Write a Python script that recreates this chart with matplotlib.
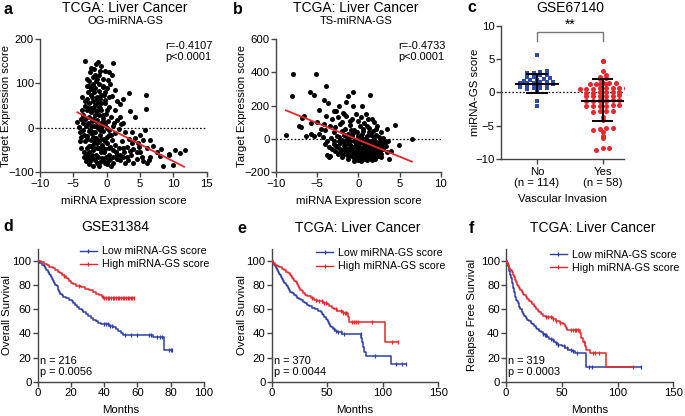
import numpy as np
import matplotlib
matplotlib.use('Agg')
import matplotlib.pyplot as plt
from matplotlib.lines import Line2D

plt.rcParams['font.family'] = ['Liberation Sans', 'DejaVu Sans']

# ---------------- DATA ----------------
# Panel a: OG-miRNA-GS (miRNA expression score, target expression score)
a_points = [
    (-3.3,151),(-1.6,144),(-1.3,148),(1.0,146),(-2.4,135),(-1.0,128),(-0.3,128),(0.4,125),(0.8,118),
    (-2.0,114),(-2.6,106),(-1.6,106),(-2.1,99),(-3.0,95),(-1.1,99),(-0.5,91),(0.5,99),(3.3,78),(5.9,74),
    (5.9,43),(-3.7,69),(2.0,54),(3.5,39),(4.3,24),(-1.8,120),(-0.6,110),(0.2,108),(1.3,85),(-2.8,80),
    (-1.2,82),(-2.3,88),(0.8,72),(1.5,60),(2.5,66),(-3.2,50),(-0.2,62),(-1.5,70),(-2.0,60),(-0.8,55),(0.3,48),
    (-4.4,14),(-4.2,3),(-3.9,-20),(-3.5,30),(-3.2,20),(-3.0,40),(-2.8,10),(-2.6,25),(-2.5,-5),(-2.3,35),
    (-2.2,15),(-2.0,45),(-1.9,5),(-1.8,28),(-1.7,-10),(-1.5,38),(-1.4,18),(-1.3,0),(-1.1,30),(-1.0,-15),
    (-0.9,12),(-0.8,40),(-0.6,22),(-0.5,-8),(-0.3,8),(-0.1,32),(0.0,-20),(0.2,15),(0.4,-5),(0.6,25),
    (0.9,5),(1.2,-12),(1.5,18),(1.8,-2),(2.2,8),(2.8,-10),(-3.6,-5),(-3.3,-30),(-2.9,-18),(-2.7,-40),
    (-2.4,-28),(-2.1,-50),(-1.9,-35),(-1.6,-22),(-1.4,-45),(-1.2,-30),(-0.9,-55),(-0.7,-38),(-0.4,-25),
    (-0.2,-48),(0.1,-35),(0.3,-60),(0.5,-42),(0.8,-28),(1.0,-50),(1.3,-38),(1.6,-62),(1.9,-45),(2.3,-30),
    (2.6,-55),(3.0,-42),(3.3,-25),(3.6,-60),(4.0,-48),(4.3,-22),(4.7,-35),(5.0,-55),(5.5,-28),(6.0,-45),
    (6.5,-27),(7.0,-40),(4.8,-43),(5.3,-66),(6.5,-66),(8.0,-64),(9.3,-58),(10.3,-49),(8.5,-85),(3.5,-51),
    (2.5,-66),(2.0,-73),(0.5,-70),(-3.3,-66),(-2.8,-70),(-1.0,-77),(10.0,-84),(11.8,-50),(11.0,-57),
    (9.3,-61),(-3.4,-65),(-2.5,-75),(-2.0,-68),(-1.5,-80),(-0.5,-72),(0.0,-82),(1.0,-78),(1.5,-70),
    (2.8,-78),(3.2,-72),(4.0,-80),(4.5,-70),(5.5,-75),(6.0,-80),(6.3,-72),(7.5,-55),(8.2,-48),(3.8,-10),
    (5.0,-15),(5.8,-5),(-3.8,-45),(-4.0,-10),(-3.1,5),(-2.6,55),(-2.2,70),(-1.7,52),(-1.0,65),(-0.4,75),
    (0.0,90),(-0.9,140),(-2.5,125),(-1.9,132),(1.2,40),(2.0,25),(2.5,10),(-2.3,-12),(-2.0,20),(-1.8,-25),
    (-1.5,5),(-1.2,48),(-0.8,-5),(-0.6,-45),(-0.3,55),(0.1,0),(-1.6,-60),(-2.7,-55),(-3.0,-45),(-0.1,-65),
    (0.7,-15),(1.1,10),(-2.4,45),(-1.3,58),(-3.5,10),(-2.9,65),(-1.7,90),
    (-3.4,-55),(-3.1,-75),(-2.9,-60),(-2.6,-82),(-2.2,-62),(-2.0,-85),(-1.8,-72),(-1.3,-65),(-1.1,-85),
    (-0.7,-68),(-0.3,-80),(0.2,-75),(0.6,-85),(-3.6,25),(-3.4,-15),(-3.0,-25),(-2.7,-8),(-2.4,5),
    (-2.1,-20),(-1.9,-45),(-1.6,15),(-1.4,-35),(-1.1,-45),(-0.8,-25),(-0.5,15),(-0.2,-30),(0.3,-15),
    (-3.2,60),(-2.8,45),(-2.4,75),(-2.1,95),(-1.9,80),(-1.5,110),(-1.2,118),(-0.9,75),(-0.6,95),(-0.2,80),
    (0.3,70),(-2.7,95),(-3.0,110),(-2.3,-40),(-2.0,-10),(-1.7,40),(-1.4,65),(-1.0,45),(-0.7,5),(-0.4,-55),
    (0.0,40),(0.4,-45),(1.0,-65),(1.4,-55),(2.0,-60),(2.4,-45),(3.0,-65),(3.8,-35),(4.5,-55),(-3.7,40),
    (-4.0,-30),(-3.9,20),(-2.5,-65),(-1.0,-5),(-0.5,30),
]
a_fit_x = [-4.4, 11.6]
a_fit_y = [35, -87.5]

# Panel b: TS-miRNA-GS
b_points = [
    (-7.9,390),(-5.2,390),(-8.0,256),(-5.9,280),(-5.4,266),(-3.9,320),(-4.2,234),(-3.7,216),(-1.3,260),
    (-0.7,282),(1.4,262),(-1.5,224),(-4.8,174),(-6.6,140),(-6.8,126),(-7.2,80),(-7.0,70),(-8.8,24),
    (-5.7,94),(-5.8,30),(-5.4,16),(-6.4,20),(-4.2,90),(-4.0,54),(-3.8,-10),(-3.6,-50),(-3.6,-106),
    (4.4,86),(3.5,60),(4.9,-36),(6.5,0),(3.7,-120),(2.5,-70),(-2.9,170),(-2.3,200),(-1.9,156),(-0.7,200),
    (0.5,200),(0.9,150),(1.7,120),(1.9,100),(2.7,40),
    (-2.5,130),(-1.5,140),(-0.3,150),(0.3,130),(-1.0,110),(1.2,120),(-2.0,100),(0.0,105),(-3.2,120),
    (-3.5,80),(-2.8,70),(-2.2,90),(-1.6,60),(-1.0,85),(-0.5,55),(0.2,75),(0.7,95),(1.3,65),(1.8,50),
    (2.3,80),(-0.2,40),(-1.3,30),(-2.0,45),(-2.6,20),(-3.0,40),(-4.5,60),(-5.0,100),(-4.8,30),
    (-3.3,5),(-2.9,-10),(-2.4,10),(-2.0,-5),(-1.7,25),(-1.2,0),(-0.8,20),(-0.4,-5),(0.0,15),(0.4,30),
    (0.8,0),(1.1,20),(1.5,-10),(1.9,10),(2.2,25),(2.6,-15),(3.0,5),(0.6,45),(-0.6,35),(1.3,40),
    (-3.0,-30),(-2.6,-45),(-2.2,-25),(-1.8,-40),(-1.4,-20),(-1.0,-35),(-0.7,-50),(-0.3,-25),(0.1,-40),
    (0.4,-20),(0.7,-45),(1.0,-30),(1.3,-50),(1.6,-25),(2.0,-40),(2.4,-30),(2.8,-45),(3.2,-20),(-0.5,-10),
    (0.3,-8),(0.9,-12),(1.8,-5),(-1.5,-8),(-2.3,-55),
    (-2.8,-70),(-2.2,-80),(-1.7,-60),(-1.3,-90),(-0.9,-70),(-0.5,-85),(-0.1,-60),(0.2,-95),(0.5,-75),
    (0.8,-60),(1.1,-90),(1.4,-70),(1.7,-85),(2.0,-65),(2.3,-95),(2.6,-75),(3.0,-60),(-0.2,-75),(0.6,-55),
    (1.0,-65),(-1.9,-95),(0.0,-80),
    (-2.0,-110),(-1.2,-120),(-0.5,-115),(0.0,-125),(0.5,-110),(1.0,-125),(1.5,-115),(2.0,-120),(2.8,-110),
    (-3.5,-105),(-3.8,-95),(0.3,-130),(1.2,-105),(-0.8,-105),
    (-0.4,-40),(0.2,-55),(0.8,-35),(-1.0,-55),(1.5,-45),(-0.6,-95),(0.7,-100),(-1.6,-75),(1.9,-100),
    (2.5,-55),(0.0,-15),(-1.1,10),(0.5,5),(-2.5,-90),(3.5,-80),(4.0,-70),(-3.2,-60),(-4.0,-30),(-4.3,10),
    (2.1,60),(1.0,80),(-0.8,120),(-1.8,150),(-2.7,170),(-3.9,140),
    (-1.8,-20),(-1.4,-60),(-1.0,-15),(-0.6,-70),(-0.2,-45),(0.2,-20),(0.6,-90),(1.0,-45),(1.4,-95),
    (1.8,-30),(2.2,-70),(-1.2,-105),(-0.3,-100),(0.4,-115),(1.1,-110),(1.7,-125),(2.4,-105),(-0.9,-45),
    (-0.1,-30),(0.5,-65),(0.9,-80),(1.3,-15),(2.1,-55),(-1.6,-35),(-2.1,-65),(-0.5,-130),(0.8,-120),
    (1.6,-60),(2.7,-90),(3.3,-45),(-2.4,-15),(-1.3,-75),(0.1,-105),(0.7,-25),(1.9,-80),(-0.8,-85),
    (0.0,-50),(0.4,-85),(1.2,-35),(-0.4,-60),(2.9,-25),(3.6,-10),(-2.7,-40),(0.3,15),(1.5,25),(-0.9,55),
    (0.6,60),(2.0,-15),(-1.5,20),(2.5,10),
]
b_fit_x = [-8.8, 6.5]
b_fit_y = [172, -136]

# Panel c: GSE67140 miRNA-GS score by vascular invasion
c_categories = ['No\n(n = 114)', 'Yes\n(n = 58)']
c_no = [5.6, 3.2, 3.1, 2.95, 2.85, 2.6, 2.6, 2.35, 2.35, 2.2, 1.95, 1.85, 1.85, 1.75, 1.6, 1.6, 1.6,
        1.45, 1.45, 1.35, 1.2, 1.0, 0.95, 0.95, 0.85, 0.75, 0.6, 0.6, 0.6, 0.45, 0.1, -1.25, -1.35, -2.05]
c_yes = [4.75, 4.7, 3.2, 2.55, 2.3, 2.1, 1.95, 1.4, 1.35, 1.3, 1.25, 1.3, 1.2, 1.35, 0.65, 0.6, 0.55,
         0.7, 0.6, 0.5, 0.65, 0.55, 0.05, 0.0, -0.05, 0.1, 0.0, -0.05, -0.5, -0.55, -0.45, -0.5, -0.6,
         -0.5, -1.2, -1.25, -1.15, -1.3, -1.2, -1.25, -1.2, -1.3, -2.0, -1.95, -2.1, -2.0, -1.9, -2.05,
         -2.8, -2.9, -2.75, -2.85, -3.7, -4.1, -5.3, -5.6, -5.9, -5.5, -5.4, -6.5, -6.9, -8.3, -8.6, -8.4]
c_mean = [1.3, -1.25]
c_sd_hi = [2.7, 1.95]
c_sd_lo = [-0.15, -4.3]

# Panel d: GSE31384 overall survival
d_low_t = [0,1,2.5,3.5,4.5,5,6,6.5,7.5,8,8.5,9.5,10,10.5,11.5,12,12.5,13,13.5,14.5,15.5,17,19,20.5,21.5,
           22.5,23.5,25,26.5,27.5,29,30.5,32,33.5,35,36.5,38,43,45.5,47,48.5,50,51.5,69.5,76]
d_low_s = [100,98.5,97,95.5,94,92.5,91,89.5,88,86.5,85,83.5,82,80.5,79,77.5,76,74.5,73,71.5,70,69,68,
           66.5,65,63.5,62,60.5,59,57.5,56,54.5,53,51.5,50,48.5,47.5,46.5,45,43.5,42,40.5,38.5,37,26]
d_low_cens = [40,41,42,43.5,44.5,52.5,56,60,67,68,72,73.5,74.5,79,80,81]
d_high_t = [0,2,4,5.5,7,9,10.5,12,13.5,14.5,16,17,18,19,20,21.5,23,26,28.5,31,33,35,37,38.5,39.5]
d_high_s = [100,99,97.7,96.4,95.1,93.8,92.5,91.2,89.9,88.6,87.3,86,84.7,83.4,82.1,80.8,79.5,78.2,76.9,
            75.6,74.3,73,71.7,70.4,69]
d_high_cens = [16,25,39,40,41,42,43,44,45,46,47,48,49,50,51,52,53,54,55,56,57,58]

# Panel e: TCGA overall survival
e_low_t = [0,1,2,3,4,4.5,5.5,6.5,7.5,8.5,9.5,10.5,11.5,12.5,13.5,14.5,15.5,16.5,18,20,21.5,23,24.5,26,
           28,30,32,34,36,39,42,44,45.5,46.5,47.5,48.5,49.5,50.5,51.5,52.5,53.5,55,57,59,63,80.5,81.5,
           82.5,83.5,84.5,107]
e_low_s = [100,98.5,97,95.5,94,92.5,91,89.5,88,86.5,85,83.5,82,80.5,79,77.5,76,74.5,73.3,72.1,70.9,
           69.7,68.5,67.3,66.1,64.9,63.7,62.5,61.3,60.1,58.9,57.7,56.3,54.9,53.5,52.1,50.7,49.3,47.9,
           46.5,45.1,43.7,42.3,41,39.7,36.5,33,29,25,21.5,14.5]
e_low_cens = [56,58,60,62,65,80,93,112,117,121]
e_high_t = [0,1.5,3,4.5,6.5,9,11,13,15,16.5,17.5,18.5,19.5,20.5,21.5,22.5,23.5,24.5,25.5,27,28.5,30,32,
            35,38,41,46,50,52,54,56,59,64,69,69.5,102]
e_high_s = [100,98.5,97,95.8,94.6,93.4,92.2,91,89.8,88.6,87.4,86.2,85,83.6,82.2,80.8,79.2,77.6,76.2,
            74.8,73.4,72,70.6,69.3,68,66.7,65.4,64.1,62.7,61.3,59.9,58.5,57.1,53.5,49.5,33]
e_high_cens = [36,40,43,45,47,49,58,62,64,66,67,72,74,76,78,90,108,114]

# Panel f: TCGA relapse free survival
f_low_t = [0,1,1.5,2,2.5,3,3.5,4,4.5,5,5.5,6,6.5,7,7.5,8,8.5,9,9.5,10.5,11.5,12,13,14,14.5,15.5,16.5,
           17.5,19,20.5,22,23.5,25,26.5,28,29.5,31,33,35,37,39,41,43,45,47,50,53,56,59,62,71.5]
f_low_s = [100,98.5,97,95.5,94,92,90,88,86,84,82,80,78,76,74,72,70,68,66.5,65,63.5,62,60.5,59,57.5,56,
           54.5,53,51.5,50,48.7,47.4,46.1,44.8,43.5,42.2,40.9,39.6,38.3,37,35.7,34.4,33.1,31.8,30.5,
           29.2,27.9,26.6,25.2,23.8,12.5]
f_low_cens = [33,35,36,40,42,45,47,52,55,58,60,64,74,77,121]
f_high_t = [0,1,2,3,4,5,6,7,8,9,10,11,12,13,14,15.5,16.5,17.5,19,20.5,22,23.5,25,26,27,28.5,30,31.5,33,
            36,42,45,48,51,53,54,55,66,67,69,71,72,75,90]
f_high_s = [100,98.5,96.5,94.5,92.5,90.5,88.5,86.5,84.5,82.5,80.5,79,77.5,76,74.5,73,71.5,70,68.6,67.2,
            65.8,64.4,63,61.6,60.2,58.8,57.4,56,54.6,53.2,51.8,50.4,49,47.5,46,44.5,43,40.5,36.5,33,
            29.5,26.5,23.5,12.4]
f_high_cens = [36,38,40,42,45,48,58,60,62,63,65,70,78,80,83,114]

# ---------------- STYLE ----------------
W, H = 685, 416
BLUE = '#2E3FA3'
RED = '#E8262B'
AXC = '#444444'
LAB = 8.2
TICK = 8.2
TITLE = 10

fig = plt.figure(figsize=(W / 100, H / 100), dpi=100)


def ax_px(l, t, r, b):
    return fig.add_axes([l / W, 1 - b / H, (r - l) / W, (b - t) / H])


def ftext(x, y, s, **kw):
    fig.text(x / W, 1 - y / H, s, **kw)


def style(ax):
    for s in ['top', 'right']:
        ax.spines[s].set_visible(False)
    for s in ['left', 'bottom']:
        ax.spines[s].set_color(AXC)
        ax.spines[s].set_linewidth(1.0)
    ax.tick_params(direction='out', length=3.3, width=1.0, color=AXC, labelsize=TICK, pad=1.2)


def set_labels(ax, xl, yl, xly, ylx):
    ax.set_xlabel(xl, fontsize=LAB, va='center')
    ax.set_ylabel(yl, fontsize=LAB, va='center')
    ax.xaxis.set_label_coords(0.5, xly)
    ax.yaxis.set_label_coords(ylx, 0.5)


def scatter_panel(ax, pts, fx, fy, xlim, ylim, xt, yt):
    style(ax)
    px = [p[0] for p in pts]
    py = [p[1] for p in pts]
    ax.axhline(0, color='black', lw=0.9, ls=(0, (1.3, 1.6)), zorder=1)
    ax.scatter(px, py, s=13, color='black', linewidths=0, zorder=2)
    ax.plot(fx, fy, color=RED, lw=1.3, zorder=3)
    ax.set_xlim(*xlim)
    ax.set_ylim(*ylim)
    ax.set_xticks(xt)
    ax.set_yticks(yt)
    ax.spines['left'].set_bounds(*ylim)


# ---------------- Panel a ----------------
axa = ax_px(40, 39, 206.7, 172.3)
scatter_panel(axa, a_points, a_fit_x, a_fit_y, (-10, 15), (-100, 200), [-10, -5, 0, 5, 10, 15], [-100, 0, 100, 200])
set_labels(axa, 'miRNA Expression score', 'Target Expression score', -0.215, -0.204)
axa.text(0.75, 0.985, 'r=-0.4107\np<0.0001', transform=axa.transAxes, fontsize=7.9, va='top', ha='left', linespacing=1.15)
ftext(3, 9, 'a', fontsize=11.5, fontweight='bold', va='center')
ftext(125, 8, 'TCGA: Liver Cancer', fontsize=TITLE, ha='center', va='center')
ftext(125, 20.5, 'OG-miRNA-GS', fontsize=8, ha='center', va='center')

# ---------------- Panel b ----------------
axb = ax_px(276, 39, 440.7, 172.3)
scatter_panel(axb, b_points, b_fit_x, b_fit_y, (-10, 10), (-200, 600), [-10, -5, 0, 5, 10], [-200, 0, 200, 400, 600])
set_labels(axb, 'miRNA Expression score', 'Target Expression score', -0.215, -0.208)
axb.text(0.745, 0.985, 'r=-0.4733\np<0.0001', transform=axb.transAxes, fontsize=7.9, va='top', ha='left', linespacing=1.15)
ftext(233, 9, 'b', fontsize=11.5, fontweight='bold', va='center')
ftext(356, 8, 'TCGA: Liver Cancer', fontsize=TITLE, ha='center', va='center')
ftext(356, 20.5, 'TS-miRNA-GS', fontsize=8, ha='center', va='center')

# ---------------- Panel c ----------------
axc = ax_px(500.7, 25.7, 624, 159)
style(axc)
axc.set_xlim(0.45, 2.32)
axc.set_ylim(-10, 10)
axc.axhline(0, color='black', lw=0.9, ls=(0, (1.3, 1.6)), zorder=1)


def swarm_x(center, vals, binw=0.5, step=0.095):
    vals = np.asarray(vals, dtype=float)
    bins = np.round(vals / binw).astype(int)
    xs = np.zeros_like(vals)
    for b in np.unique(bins):
        idx = np.where(bins == b)[0]
        idx = idx[np.argsort(vals[idx])]
        n = len(idx)
        offs = (np.arange(n) - (n - 1) / 2) * step
        xs[idx] = center + offs
    return xs


axc.scatter(swarm_x(1, c_no, step=0.1), c_no, marker='s', s=10, color='#2F4AA8', linewidths=0, zorder=2)
axc.scatter(swarm_x(2, c_yes, step=0.1), c_yes, marker='o', s=13, color=RED, linewidths=0, zorder=2)
for i, (m, hi, lo) in enumerate(zip(c_mean, c_sd_hi, c_sd_lo)):
    xc = i + 1
    axc.hlines(m, xc - 0.33, xc + 0.33, color='black', lw=1.4, zorder=4)
    axc.vlines(xc, lo, hi, color='black', lw=1.4, zorder=4)
    axc.hlines([lo, hi], xc - 0.16, xc + 0.16, color='black', lw=1.4, zorder=4)
axc.plot([1, 1, 2, 2], [7.7, 9.0, 9.0, 7.7], color='#777777', lw=1.0)
axc.text(1.5, 9.15, '**', ha='center', va='bottom', fontsize=10)
axc.set_xticks([1, 2])
axc.set_xticklabels(c_categories, fontsize=TICK, linespacing=1.15)
axc.set_yticks([-10, -5, 0, 5, 10])
axc.tick_params(axis='x', pad=2.5)
set_labels(axc, 'Vascular Invasion', 'miRNA-GS score', -0.30, -0.21)
ftext(467, 8, 'c', fontsize=11.5, fontweight='bold', va='center')
ftext(570, 7.5, 'GSE67140', fontsize=TITLE, ha='center', va='center')


# ---------------- KM panels ----------------
def km(ax, t, s, cens, color):
    t = np.asarray(t, float)
    s = np.asarray(s, float)
    end = max(max(cens), t[-1])
    tt = np.append(t, end)
    ss = np.append(s, s[-1])
    ax.step(tt, ss, where='post', color=color, lw=1.1, zorder=3)
    cy = s[np.searchsorted(t, cens, side='right') - 1]
    ax.plot(cens, cy, ls='none', marker='|', markersize=3.2, markeredgewidth=0.9, color=color, zorder=3)


def km_panel(ax, curves, xmax, xstep, nstr, pstr, ylab, leg_xy):
    style(ax)
    for (t, s, c, col) in curves:
        km(ax, t, s, c, col)
    ax.set_xlim(0, xmax)
    ax.set_ylim(0, 110)
    ax.set_xticks(np.arange(0, xmax + 1, xstep))
    ax.set_yticks([0, 20, 40, 60, 80, 100])
    set_labels(ax, 'Months', ylab, -0.213, leg_xy[2])
    ax.text(0.014, 0.155, nstr, transform=ax.transAxes, fontsize=7.9, va='center')
    ax.text(0.014, 0.075, pstr, transform=ax.transAxes, fontsize=7.9, va='center')
    handles = [Line2D([], [], color=BLUE, lw=1.0, marker='|', markersize=3.2, markeredgewidth=0.9),
               Line2D([], [], color=RED, lw=1.0, marker='|', markersize=3.2, markeredgewidth=0.9)]
    ax.legend(handles, ['Low miRNA-GS score', 'High miRNA-GS score'], loc='upper left',
              bbox_to_anchor=(leg_xy[0], leg_xy[1]), frameon=False, fontsize=7.7, handlelength=1.6,
              handletextpad=0.45, labelspacing=0.3, borderaxespad=0, borderpad=0, numpoints=1)


axd = ax_px(37.7, 248.9, 204, 381.7)
km_panel(axd, [(d_low_t, d_low_s, d_low_cens, BLUE), (d_high_t, d_high_s, d_high_cens, RED)],
         100, 20, 'n = 216', 'p = 0.0056', 'Overall Survival', (0.254, 1.02, -0.186))
ftext(3, 227, 'd', fontsize=11.5, fontweight='bold', va='center')
ftext(115, 227, 'GSE31384', fontsize=TITLE, ha='center', va='center')

axe = ax_px(271.7, 248.9, 438.3, 381.7)
km_panel(axe, [(e_low_t, e_low_s, e_low_cens, BLUE), (e_high_t, e_high_s, e_high_cens, RED)],
         150, 50, 'n = 370', 'p = 0.0044', 'Overall Survival', (0.266, 1.005, -0.18))
ftext(237, 228, 'e', fontsize=11.5, fontweight='bold', va='center')
ftext(358, 228, 'TCGA: Liver Cancer', fontsize=TITLE, ha='center', va='center')

axf = ax_px(506, 248.9, 673.3, 381.7)
km_panel(axf, [(f_low_t, f_low_s, f_low_cens, BLUE), (f_high_t, f_high_s, f_high_cens, RED)],
         150, 50, 'n = 319', 'p = 0.0003', 'Relapse Free Survival', (0.262, 0.995, -0.205))
ftext(469, 228, 'f', fontsize=11.5, fontweight='bold', va='center')
ftext(593, 228, 'TCGA: Liver Cancer', fontsize=TITLE, ha='center', va='center')

fig.savefig('out.png', dpi=100)
